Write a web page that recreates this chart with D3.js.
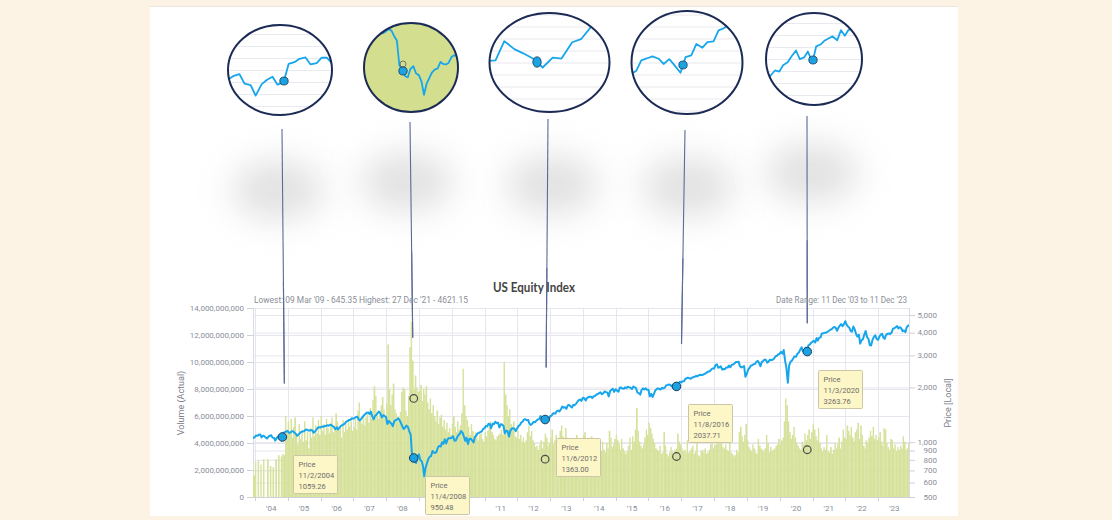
<!DOCTYPE html>
<html><head><meta charset="utf-8">
<script src="https://cdn.jsdelivr.net/npm/d3@7/dist/d3.min.js"></script>
<style>
html,body{margin:0;padding:0;background:#fdf3e4;}
svg{display:block;font-family:Roboto,"Open Sans",sans-serif;}
</style></head><body>
<svg id="c" width="1112" height="520"></svg>
<script>
// ---------------- DATA ----------------
const chartTitle = "US Equity Index";
const lowHighText = "Lowest: 09 Mar '09 - 645.35  Highest: 27 Dec '21 - 4621.15";
const rangeText = "Date Range: 11 Dec '03 to 11 Dec '23";
const dateRange = ["2003-12-11", "2023-12-11"];
const yearLabels = ["'04","'05","'06","'07","'08","'09","'10","'11","'12","'13","'14","'15","'16","'17","'18","'19","'20","'21","'22","'23"];
const volumeTicks = [0, 2, 4, 6, 8, 10, 12, 14];            // billions
const priceTicks = [500, 600, 700, 800, 900, 1000, 2000, 3000, 4000, 5000];

// semi-monthly index level: 11 Dec 2003, then 1st & 15th of each month 2004..2023
const priceValues = [
  1050,
  1070,1088,1086,1100, 1104,1062,1086,1080, 1060,1048,1074,1086, 1092,1060,1055,1020, 1058,1072,1083,1056, 1064,1128,1134,1146,
  1151,1126,1131,1150, 1150,1131,1113,1086, 1104,1121,1140,1146, 1150,1167,1174,1161, 1159,1167,1165,1127, 1146,1171,1202,1207,
  1205,1221,1216,1226, 1226,1240,1232,1245, 1245,1227,1207,1178, 1207,1174,1205,1230, 1240,1254,1268,1297, 1309,1326,1326,1353,
  1345,1359,1376,1383, 1337,1318,1349,1379, 1408,1430,1454,1456, 1428,1472,1382,1336, 1399,1410,1451,1475, 1434,1368,1407,1394,
  1375,1259,1309,1283, 1264,1226,1302,1321, 1330,1354,1316,1273, 1220,1183,1204,1233, 1213,1152,1102,862, 830,780,770,835,
  858,801,785,740, 650,722,770,809, 833,838,895,877, 873,885,938,954, 948,999,978,1037, 984,1038,1053,1052,
  1059,1079,1020,1021, 1059,1093,1112,1150, 1128,1078,1017,1059, 976,1041,1046,1025, 997,1069,1089,1117, 1125,1137,1146,1180,
  1195,1228,1222,1264, 1261,1193,1265,1254, 1295,1273,1278,1204, 1254,1250,1227,1119, 1158,1149,1074,1154, 1190,1194,1184,1151,
  1195,1226,1246,1283, 1298,1332,1338,1321, 1327,1264,1245,1264, 1294,1288,1310,1335, 1337,1392,1369,1357, 1341,1317,1345,1342,
  1389,1398,1437,1444, 1439,1482,1492,1475, 1517,1568,1549,1558, 1526,1591,1602,1577, 1551,1603,1598,1625, 1669,1701,1716,1686,
  1756,1746,1694,1748, 1766,1778,1778,1748, 1790,1796,1828,1840, 1862,1881,1834,1857, 1903,1886,1873,1786, 1917,1938,1965,1891,
  1956,1919,1895,1991, 2000,1977,1965,2001, 1982,2016,2002,1991, 1960,2020,1999,1980, 1873,1862,1824,1931, 1975,1948,1976,1941,
  1942,1786,1843,1772, 1835,1919,1957,1977, 1962,1948,1992,1973, 1994,2053,2065,2076, 2062,2032,2060,2025, 1982,2071,2081,2149,
  2127,2161,2165,2233, 2246,2266,2245,2233, 2265,2280,2291,2313, 2302,2337,2347,2342, 2348,2375,2393,2427, 2446,2456,2516,2541,
  2540,2647,2683,2565, 2578,2613,2509,2527, 2516,2575,2570,2636, 2582,2660,2675,2708, 2757,2760,2768,2613, 2576,2594,2622,2290,
  2382,2508,2569,2636, 2645,2681,2692,2761, 2799,2736,2614,2755, 2795,2845,2831,2736, 2780,2841,2828,2841, 2886,2964,2984,3031,
  3069,3135,3065,3211, 2806,2576,2125,2641, 2766,2803,2892,2964, 2945,3054,3107,3211, 3325,3164,3195,3306, 3107,3406,3441,3515,
  3568,3605,3528,3737, 3620,3746,3774,3962, 3972,3990,3994,4035, 4083,4142,4175,4247, 4297,4256,4093,4247, 4375,4456,4339,4435,
  4621,4429,4319,4247, 4091,4049,4319,4172, 3925,3808,3896,3483, 3634,3670,3912,4082, 3768,3706,3407,3404, 3663,3792,3872,3700,
  3648,3799,3913,3940, 3753,3697,3904,3931, 3960,3929,4010,4204, 4228,4280,4347,4215, 4289,4228,4074,4111, 4025,4277,4364,4391
];

// semi-monthly traded volume, billions
const volumeValues = [
  1.6,
  2.6,0,2.7,0, 2.4,0,2.8,0, 0,2.8,0,2.3, 0,2.2,0,2.8, 0,3.1,0,3.0, 3.2,3.1,6.0,5.0,
  5.6,4.8,5.8,4.4, 5.2,5.9,4.6,3.9, 5.4,4.3,5.0,4.1, 5.6,4.2,4.8,3.6, 5.1,4.4,5.9,4.5, 5.3,4.7,5.7,4.6,
  6.0,4.9,5.4,4.6, 5.8,5.1,4.7,5.5, 5.9,4.8,5.3,6.2, 5.6,4.9,5.2,4.4, 5.7,4.8,5.4,5.0, 5.8,5.2,5.6,4.9,
  5.2,5.8,5.0,6.4, 7.0,5.6,5.4,6.0, 5.3,5.9,6.2,5.5, 6.6,5.8,7.2,8.2, 7.5,6.0,5.8,6.3, 6.8,7.4,6.5,5.9,
  6.9,11.3,8.0,6.8, 7.6,8.4,6.5,6.2, 5.6,5.9,6.3,7.8, 8.1,8.0,6.4,6.0, 7.5,11.1,13.0,10.1, 8.0,9.0,8.1,7.8,
  7.9,8.3,7.1,8.0, 7.6,8.2,7.0,6.5, 7.3,6.2,6.8,6.0, 5.6,6.4,5.4,5.9, 6.1,5.2,5.7,5.0, 5.5,4.8,5.1,4.6,
  5.4,6.0,5.2,4.8, 5.6,5.0,5.3,6.2, 9.5,6.8,6.0,5.7, 5.2,4.6,5.4,4.9, 4.4,4.8,4.5,4.2, 4.6,4.7,4.3,4.1,
  4.8,4.5,4.9,5.2, 5.6,4.8,4.6,4.3, 4.2,4.5,4.6,4.7, 5.0,4.6,10.0,7.6, 6.8,6.0,6.5,5.4, 5.2,5.6,4.5,4.4,
  4.9,4.3,4.6,4.1, 4.4,4.0,4.2,4.8, 5.3,4.5,4.9,4.2, 4.0,3.7,3.8,3.5, 3.9,4.2,3.6,4.1, 4.7,4.4,3.8,4.0,
  4.4,5.0,3.9,4.2, 4.6,3.8,4.1,4.9, 5.3,4.5,4.0,5.1, 4.4,3.7,4.0,3.6, 3.9,4.3,3.8,4.6, 3.9,3.5,3.7,4.2,
  4.6,4.8,4.2,3.6, 4.4,3.7,4.5,3.8, 3.5,3.4,3.2,3.6, 3.8,3.4,4.1,3.5, 3.3,4.0,3.6,4.9, 4.4,3.7,3.9,4.3,
  4.6,4.2,3.9,3.5, 4.3,3.6,3.4,3.2, 3.4,3.8,4.4,3.5, 4.5,4.1,5.0,6.6, 4.9,4.1,3.8,3.6, 3.9,4.4,5.0,4.6,
  5.5,5.1,4.7,4.3, 4.0,3.6,3.5,3.4, 3.8,3.2,3.3,4.8, 3.8,3.2,3.0,3.3, 3.7,3.4,3.2,3.5, 3.6,4.7,4.1,3.9,
  3.6,3.4,3.5,3.3, 4.2,3.3,3.4,3.6, 3.8,3.2,3.4,4.4, 3.1,3.0,3.4,3.5, 3.3,3.6,3.2,3.3, 3.5,3.9,4.2,3.6,
  3.8,3.9,5.5,4.7, 4.5,4.1,3.7,3.6, 3.9,3.5,3.4,4.4, 3.3,3.2,3.0,3.1, 3.5,3.3,4.8,5.2, 4.5,4.1,4.6,5.4,
  4.2,3.7,3.5,3.4, 3.9,3.6,3.3,3.2, 4.3,3.8,3.6,3.5, 3.4,3.6,4.6,4.0, 3.3,3.7,3.4,3.5, 3.6,3.8,3.9,4.3,
  3.9,4.2,4.4,5.6, 7.3,6.8,5.6,4.8, 4.3,4.6,5.2,4.4, 4.0,3.8,3.6,3.5, 4.1,3.9,4.7,4.2, 4.6,5.0,4.3,4.8,
  5.4,5.0,4.5,4.2, 5.1,4.0,3.6,3.4, 3.7,3.5,4.6,3.4, 3.3,3.7,3.2,3.5, 4.0,3.6,3.9,4.4, 3.6,4.1,5.0,4.4,
  4.3,5.3,4.9,4.6, 5.2,4.4,4.1,4.8, 5.0,5.5,4.3,5.3, 4.6,3.8,3.6,4.2, 4.0,4.4,4.9,4.5, 5.2,4.3,4.6,4.2,
  4.4,4.8,4.1,3.8, 5.1,5.0,4.0,3.7, 3.5,4.3,4.2,3.6, 3.9,3.4,3.7,3.5, 3.8,3.6,4.5,4.1, 3.5,3.6,4.0,4.6
];

// highlighted points
const markerDates   = ["2004-11-02", "2008-11-04", "2012-11-06", "2016-11-08", "2020-11-03"];
const markerPrices  = [1059.26, 950.48, 1363.00, 2037.71, 3263.76];
const markerVolumes = [null, 7.3, 2.8, 3.0, 3.5];          // billions (hollow volume markers)
const connectorPrices = [2100, 3750, 2570, 3470, 4510];   // where each call-out line ends on the price axis

// ---------------- LAYOUT / STYLE ----------------
const plot = {left: 253, right: 909, top: 308, bottom: 497};
const insetLayout = [
  {cx: 280,   cy: 70,   rx: 52,   ry: 45,   mx: 284, my: 81, kx: 4, ky: 4,   green: false},
  {cx: 411,   cy: 67.5, rx: 47,   ry: 44.5, mx: 403, my: 71, kx: 2, ky: 1.3, green: true},
  {cx: 549.5, cy: 62.5, rx: 60,   ry: 49.5, mx: 537, my: 62, kx: 7, ky: 6,   green: false},
  {cx: 687,   cy: 62.5, rx: 55.5, ry: 51.5, mx: 683, my: 65, kx: 4, ky: 4.5, green: false},
  {cx: 814,   cy: 59,   rx: 48,   ry: 46,   mx: 813, my: 60, kx: 3, ky: 2.2, green: false}
];
const shadowLayout = [[278,190],[407,182],[552,185],[688,187],[812,173]];
const connectorTop = [[282,129],[410,122],[548,119],[685,130],[807,116]];
const connectorDx = [2, -1, 1, 5, 0];
const tipSize = {w: 44, h: 38, dx: 11, dy: 18};
const C = {
  grid: "#e5e6ee", axisText: "#8a8e98", bar: "#d6e19a", barInset: "#d3df8f",
  line: "#17a6ec", markerFill: "#1aa3e0", markerStroke: "#1d3c5c", ring: "#1b2b55",
  connector: "#5b6b99", tipFill: "#fdf6c6", tipStroke: "#cbc6a6", tipText: "#6c6c6c"
};

// ---------------- BUILD ----------------
const parseD = d3.timeParse("%Y-%m-%d");
const fmtDate = d3.timeFormat("%-m/%-d/%Y");
const svg = d3.select("#c");
const defs = svg.append("defs");

const x = d3.scaleTime([parseD(dateRange[0]), parseD(dateRange[1])], [plot.left, plot.right]);
const yVol = d3.scaleLinear([0, 14], [plot.bottom, plot.top]);
const yPrice = d3.scaleLog([500, 5000], [plot.bottom, 315]);

const dates = [parseD(dateRange[0])];
for (let yr = 2004; yr <= 2023; yr++) for (let m = 0; m < 12; m++) { dates.push(new Date(yr, m, 1)); dates.push(new Date(yr, m, 15)); }
const series = dates.map((d, i) => ({date: d, v: priceValues[i], vol: volumeValues[i]})).filter(d => d.v != null);

function priceAt(date) {
  const i = Math.max(0, d3.bisector(d => d.date).right(series, date) - 1);
  const a = series[i], b = series[Math.min(i + 1, series.length - 1)];
  const t = b.date - a.date ? (date - a.date) / (b.date - a.date) : 0;
  return Math.exp(Math.log(a.v) * (1 - t) + Math.log(b.v) * t);
}

// background panel
svg.append("rect").attr("x", 150).attr("y", 6).attr("width", 808).attr("height", 510).attr("fill", "#fff");
svg.append("line").attr("x1", 150).attr("x2", 958).attr("y1", 6.5).attr("y2", 6.5).attr("stroke", "#ebe6de");

// shadows
const blur = defs.append("filter").attr("id", "blur").attr("x", "-100%").attr("y", "-100%").attr("width", "300%").attr("height", "300%");
blur.append("feGaussianBlur").attr("stdDeviation", 17);
svg.append("g").selectAll("ellipse").data(shadowLayout).join("ellipse")
  .attr("cx", d => d[0]).attr("cy", d => d[1]).attr("rx", 46).attr("ry", 30)
  .attr("fill", "#c4c4c4").attr("opacity", 0.5).attr("filter", "url(#blur)");

// clip for plot
defs.append("clipPath").attr("id", "plotclip").append("rect")
  .attr("x", plot.left).attr("y", plot.top - 2).attr("width", plot.right - plot.left).attr("height", plot.bottom - plot.top + 2);

// grid
const grid = svg.append("g");
grid.selectAll(".hv").data(volumeTicks).join("line")
  .attr("x1", plot.left).attr("x2", plot.right).attr("y1", d => yVol(d) + 0.5).attr("y2", d => yVol(d) + 0.5)
  .attr("stroke", C.grid);
grid.selectAll(".hp").data(priceTicks).join("line")
  .attr("x1", plot.left).attr("x2", plot.right).attr("y1", d => yPrice(d) + 0.5).attr("y2", d => yPrice(d) + 0.5)
  .attr("stroke", C.grid);
const yearStarts = d3.range(2004, 2024).map(y => new Date(y, 0, 1));
grid.selectAll(".vy").data(yearStarts).join("line")
  .attr("x1", d => Math.round(x(d)) + 0.5).attr("x2", d => Math.round(x(d)) + 0.5)
  .attr("y1", plot.top).attr("y2", plot.bottom).attr("stroke", C.grid);
grid.append("line").attr("x1", plot.left + 0.5).attr("x2", plot.left + 0.5).attr("y1", plot.top).attr("y2", plot.bottom).attr("stroke", "#dadbe3");
grid.append("line").attr("x1", plot.right + 0.5).attr("x2", plot.right + 0.5).attr("y1", plot.top).attr("y2", plot.bottom).attr("stroke", "#dadbe3");

// marker positions come from the series itself
const markerPts = markerDates.map((ds, i) => {
  const d = parseD(ds);
  const p = priceAt(d);
  return {date: d, px: x(d), py: yPrice(p), label: markerPrices[i], vol: markerVolumes[i]};
});
const tipBoxes = markerPts.map(d => ({x: Math.round(d.px + tipSize.dx) + 0.5, y: Math.round(d.py + tipSize.dy) + 0.5}));

// connectors
function drawConnectors(g, from) {
  g.selectAll("line").data(markerPts).join("line")
    .attr("x1", (d, i) => connectorTop[i][0] + (d.px + connectorDx[i] - connectorTop[i][0]) * from)
    .attr("y1", (d, i) => connectorTop[i][1] + (yPrice(connectorPrices[i]) - connectorTop[i][1]) * from)
    .attr("x2", (d, i) => d.px + connectorDx[i]).attr("y2", (d, i) => yPrice(connectorPrices[i]))
    .attr("stroke", C.connector).attr("stroke-width", 1.1);
}
drawConnectors(svg.append("g"), 0);

// volume bars
const chart = svg.append("g").attr("clip-path", "url(#plotclip)");
chart.append("g").selectAll("rect").data(series).join("rect")
  .attr("x", d => x(d.date))
  .attr("width", (d, i) => {
    const n = series[i + 1] ? series[i + 1].date : d3.timeDay.offset(d.date, 15);
    return Math.max(0.5, x(n) - x(d.date) + 0.15);
  })
  .attr("y", d => yVol(d.vol || 0))
  .attr("height", d => plot.bottom - yVol(d.vol || 0))
  .attr("fill", C.bar);

// connectors stay visible above the bars
drawConnectors(svg.append("g"), 0.6);

// price line
const line = d3.line().x(d => x(d.date)).y(d => yPrice(d.v));
chart.append("path").datum(series).attr("d", line).attr("fill", "none")
  .attr("stroke", C.line).attr("stroke-width", 2).attr("stroke-linejoin", "round");

// hollow volume markers
svg.append("g").selectAll("circle").data(markerPts.filter(d => d.vol != null)).join("circle")
  .attr("cx", d => d.px).attr("cy", d => yVol(d.vol)).attr("r", 3.8)
  .attr("fill", "none").attr("stroke", "#4a4a4a").attr("stroke-width", 1.2);

// price markers
svg.append("g").selectAll("circle").data(markerPts).join("circle")
  .attr("cx", d => d.px).attr("cy", d => d.py).attr("r", 4.3)
  .attr("fill", C.markerFill).attr("stroke", C.markerStroke).attr("stroke-width", 1);

// axes
const ax = svg.append("g").attr("font-size", 8).attr("fill", C.axisText);
ax.selectAll(".lt").data(volumeTicks).join("line")
  .attr("x1", plot.left - 6).attr("x2", plot.left).attr("y1", d => yVol(d) + 0.5).attr("y2", d => yVol(d) + 0.5).attr("stroke", "#cfd0d8");
ax.selectAll(".ll").data(volumeTicks).join("text")
  .attr("x", 244).attr("y", d => yVol(d)).attr("dy", "0.35em").attr("text-anchor", "end")
  .text(d => d3.format(",")(d * 1e9));
ax.selectAll(".rt").data(priceTicks).join("line")
  .attr("x1", plot.right).attr("x2", plot.right + 6).attr("y1", d => yPrice(d) + 0.5).attr("y2", d => yPrice(d) + 0.5).attr("stroke", "#cfd0d8");
ax.selectAll(".rl").data(priceTicks).join("text")
  .attr("x", 937).attr("y", d => yPrice(d)).attr("dy", "0.35em").attr("text-anchor", "end")
  .text(d => d3.format(",")(d));
// year labels (those hidden under a tooltip in the reference are not drawn)
const yearMids = d3.range(2004, 2024).map((y, i) => ({d: new Date(y, 6, 1), label: yearLabels[i]}))
  .filter(o => !tipBoxes.some(b => b.y + tipSize.h > 502 && x(o.d) > b.x - 6 && x(o.d) < b.x + tipSize.w + 6));
ax.selectAll(".xl").data(yearMids).join("text")
  .attr("x", o => x(o.d)).attr("y", 511).attr("text-anchor", "middle")
  .text(o => o.label);
ax.selectAll(".xt").data(yearStarts).join("line")
  .attr("x1", d => Math.round(x(d)) + 0.5).attr("x2", d => Math.round(x(d)) + 0.5)
  .attr("y1", plot.bottom).attr("y2", plot.bottom + 4).attr("stroke", "#cfd0d8");
ax.append("line").attr("x1", plot.left).attr("x2", plot.right).attr("y1", plot.bottom + 0.5).attr("y2", plot.bottom + 0.5).attr("stroke", "#cfd0d8");

svg.append("text").attr("transform", "translate(184,403) rotate(-90)").attr("text-anchor", "middle")
  .attr("font-size", 9).attr("fill", "#7d818a").text("Volume (Actual)");
svg.append("text").attr("transform", "translate(951,403) rotate(-90)").attr("text-anchor", "middle")
  .attr("font-size", 9).attr("fill", "#7d818a").text("Price [Local]");

svg.append("text").attr("x", 534).attr("y", 292).attr("text-anchor", "middle")
  .attr("font-family", "Lato, 'Open Sans', sans-serif").attr("font-weight", 700).attr("font-size", 13)
  .attr("fill", "#444").attr("textLength", 82).attr("lengthAdjust", "spacingAndGlyphs").text(chartTitle);
svg.append("text").attr("x", 254).attr("y", 303).attr("font-size", 8.4).attr("fill", C.axisText)
  .attr("textLength", 214).attr("lengthAdjust", "spacing").text(lowHighText);
svg.append("text").attr("x", 776).attr("y", 303).attr("font-size", 8.4).attr("fill", C.axisText)
  .attr("textLength", 131).attr("lengthAdjust", "spacingAndGlyphs").text(rangeText);

// tooltips
const tips = svg.append("g").selectAll("g").data(markerPts).join("g")
  .attr("transform", (d, i) => `translate(${tipBoxes[i].x},${tipBoxes[i].y})`);
tips.append("rect").attr("width", tipSize.w).attr("height", tipSize.h).attr("fill", C.tipFill).attr("stroke", C.tipStroke).attr("rx", 1);
tips.each(function(d) {
  const g = d3.select(this);
  ["Price", fmtDate(d.date), d3.format(".2f")(d.label)].forEach((t, k) => {
    g.append("text").attr("x", 5).attr("y", 11 + k * 11).attr("font-size", 7.5).attr("fill", C.tipText).text(t);
  });
});
// cover anything below the panel
svg.append("rect").attr("x", 0).attr("y", 516).attr("width", 1112).attr("height", 4).attr("fill", "#fdf3e4");

// insets (magnified views)
insetLayout.forEach((L, i) => {
  const m = markerPts[i];
  const cid = "inset" + i;
  defs.append("clipPath").attr("id", cid).append("ellipse").attr("cx", L.cx).attr("cy", L.cy).attr("rx", L.rx).attr("ry", L.ry);
  const g = svg.append("g");
  const inner = g.append("g").attr("clip-path", `url(#${cid})`);
  inner.append("ellipse").attr("cx", L.cx).attr("cy", L.cy).attr("rx", L.rx).attr("ry", L.ry)
    .attr("fill", L.green ? C.barInset : "#fff");
  if (!L.green) {
    inner.selectAll("line").data(d3.range(-4, 5)).join("line")
      .attr("x1", L.cx - L.rx).attr("x2", L.cx + L.rx)
      .attr("y1", k => L.cy + k * 12 + 0.5).attr("y2", k => L.cy + k * 12 + 0.5)
      .attr("stroke", "#e9eaf0").attr("stroke-width", 1.2);
  }
  const win = series.filter(d => Math.abs(d.date - m.date) < 1000 * 3600 * 24 * 400);
  const il = d3.line()
    .x(d => L.mx + (x(d.date) - m.px) * L.kx)
    .y(d => L.my + (yPrice(d.v) - m.py) * L.ky);
  inner.append("path").datum(win).attr("d", il).attr("fill", "none")
    .attr("stroke", C.line).attr("stroke-width", 1.8).attr("stroke-linejoin", "round");
  if (L.green) {
    inner.append("circle").attr("cx", L.mx).attr("cy", L.my - 7).attr("r", 3)
      .attr("fill", "none").attr("stroke", "#666").attr("stroke-width", 0.9);
  }
  inner.append("ellipse").attr("cx", L.mx).attr("cy", L.my).attr("rx", 4.2).attr("ry", i === 2 ? 5.2 : 4)
    .attr("fill", C.markerFill).attr("stroke", C.markerStroke).attr("stroke-width", 0.8);
  g.append("ellipse").attr("cx", L.cx).attr("cy", L.cy).attr("rx", L.rx).attr("ry", L.ry)
    .attr("fill", "none").attr("stroke", C.ring).attr("stroke-width", 2);
});
</script>
</body></html>
